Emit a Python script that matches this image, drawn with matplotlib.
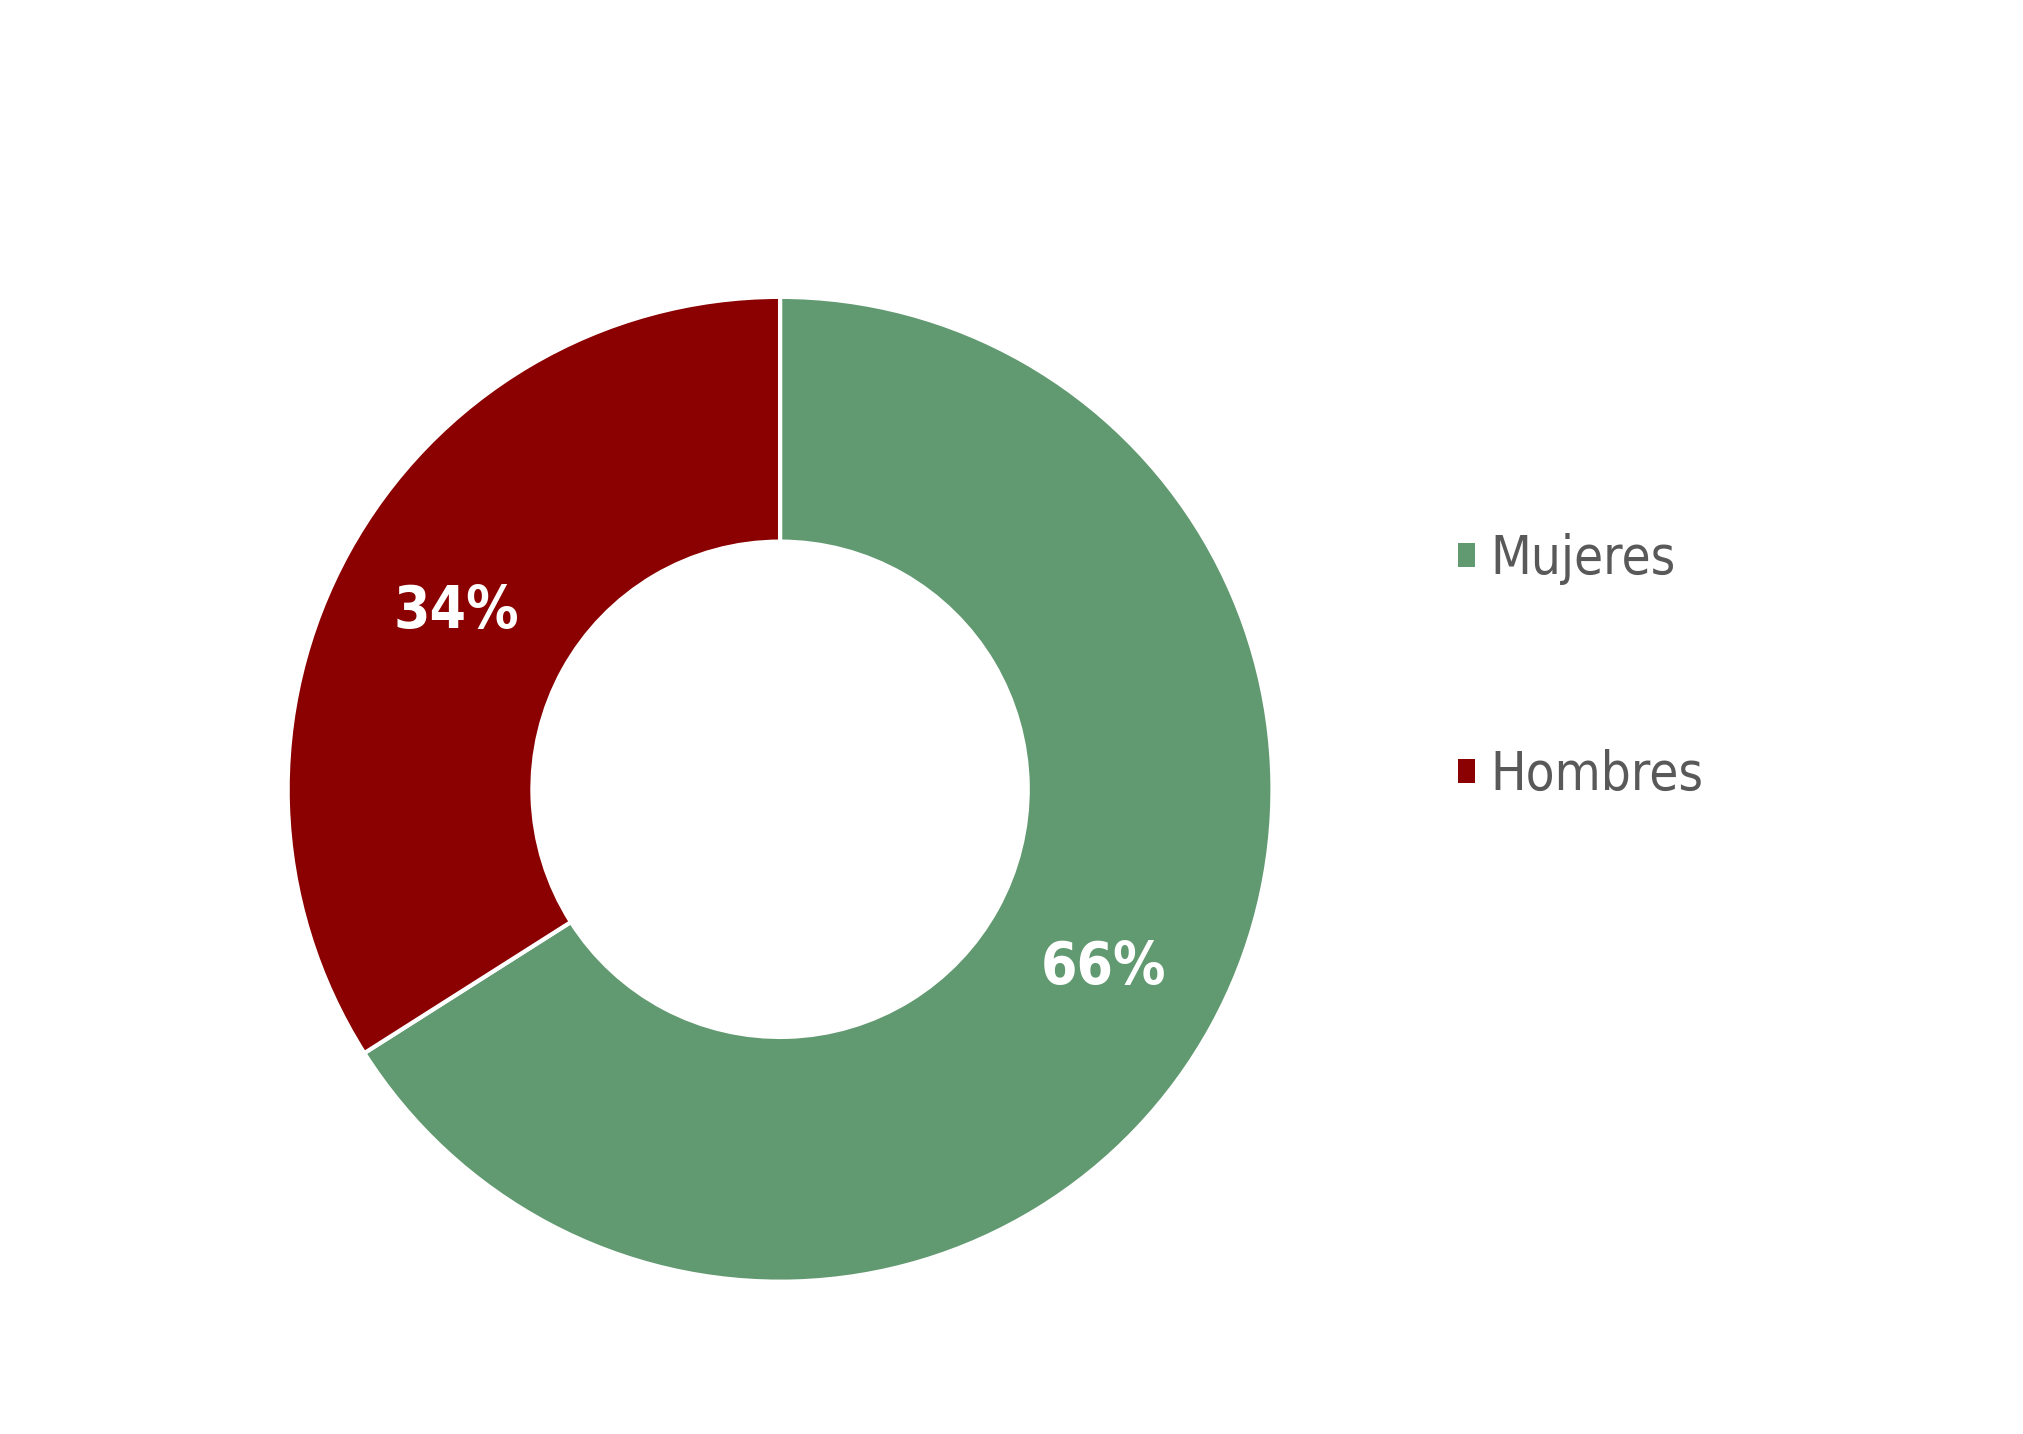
import matplotlib.pyplot as plt
from matplotlib.patches import Patch

labels = ['Mujeres', 'Hombres']
values = [66, 34]
colors = ['#619970', '#8b0000']

plt.rcParams['font.family'] = ['DejaVu Sans']
plt.rcParams['font.stretch'] = 'condensed'

fig = plt.figure(figsize=(20.23, 14.34), dpi=100)
ax = fig.add_axes([0.1422, 0.1062, 0.4868, 0.6868])

wedges, texts, autotexts = ax.pie(
    values, colors=colors, startangle=90, counterclock=False,
    radius=1, autopct='%1.0f%%', pctdistance=0.75,
    wedgeprops=dict(width=0.497, edgecolor='white', linewidth=3),
    textprops=dict(color='white', fontsize=42, fontweight='bold',
                   fontstretch='condensed'))
ax.set_xlim(-1, 1)
ax.set_ylim(-1, 1)
ax.set_aspect('equal')

handles = [Patch(facecolor=c, edgecolor='none') for c in colors]
leg = fig.legend(handles, labels, loc='center left', bbox_to_anchor=(0.697, 0.535),
                 frameon=False, labelspacing=3.1,
                 prop=dict(size=38, stretch='condensed'),
                 handlelength=0.33, handleheight=0.33, handletextpad=0.3)
for t in leg.get_texts():
    t.set_color('#595959')

fig.savefig('out.png', dpi=100, facecolor='white')
